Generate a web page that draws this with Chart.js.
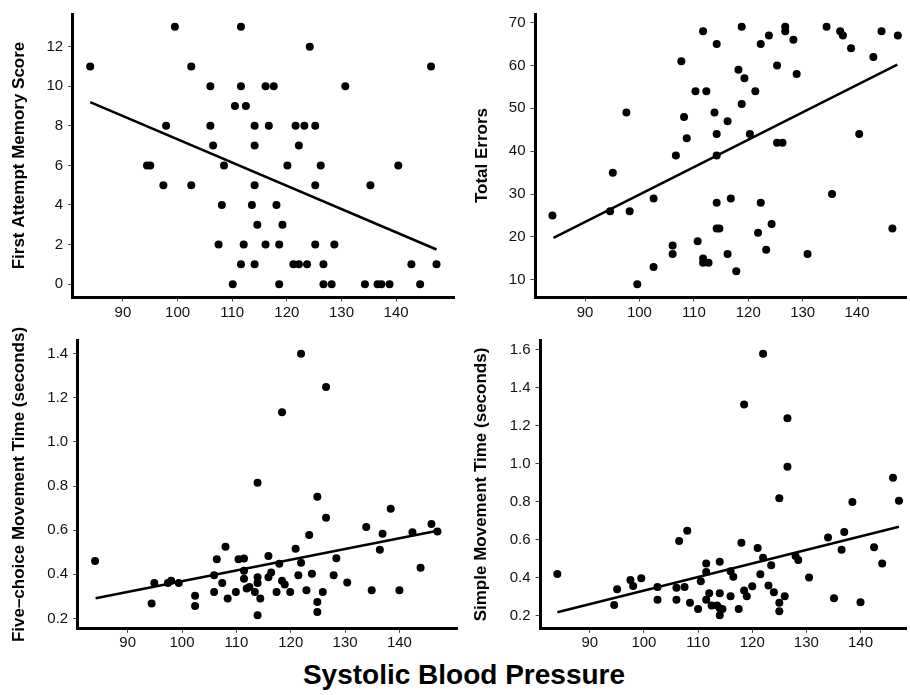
<!DOCTYPE html>
<html>
<head>
<meta charset="utf-8">
<script src="https://cdn.jsdelivr.net/npm/chart.js@4.4.1/dist/chart.umd.min.js"></script>
<style>
  body{margin:0;background:#fff;width:910px;height:695px;overflow:hidden;position:relative}
  .p{position:absolute}
  #xt{position:absolute;left:164px;width:600px;top:661px;text-align:center;
      font:bold 28px "Liberation Sans",Arial,sans-serif;line-height:28px;color:#000}
</style>
</head>
<body>
<div class="p" style="left:0;top:0;width:458px;height:325px"><canvas id="c1"></canvas></div>
<div class="p" style="left:455px;top:0;width:455px;height:325px"><canvas id="c2"></canvas></div>
<div class="p" style="left:0;top:320px;width:461px;height:335px"><canvas id="c3"></canvas></div>
<div class="p" style="left:455px;top:320px;width:455px;height:335px"><canvas id="c4"></canvas></div>
<div id="xt">Systolic Blood Pressure</div>
<script>
/* global Chart */
// Four scatter panels (systolic BP vs. outcome) with fitted lines.

// x ticks shared by every panel
const X_TICKS = [90,100,110,120,130,140];

// [systolic BP, score]
const MEM_POINTS = [
 [84,11],[99.5,13],[111.6,13],[124.2,12],[102.5,11],[146.4,11],
 [106,10],[111.6,10],[116.1,10],[117.6,10],[130.7,10],[110.5,9],[112.5,9],
 [97.9,8],[106,8],[114.1,8],[116.7,8],[121.6,8],[123.2,8],[125.2,8],
 [106.5,7],[114.1,7],[122.2,7],
 [94.4,6],[95,6],[108.5,6],[120.1,6],[126.2,6],[140.4,6],
 [97.4,5],[102.5,5],[114.1,5],[125.2,5],[135.3,5],
 [108.1,4],[113.6,4],[118.1,4],[114.6,3],[119.2,3],
 [107.5,2],[112.1,2],[116.1,2],[118.6,2],[125.2,2],[128.7,2],
 [111.6,1],[114.1,1],[121.2,1],[122.2,1],[123.7,1],[126.7,1],[142.8,1],[147.4,1],
 [110.1,0],[118.6,0],[126.7,0],[128.2,0],[134.3,0],[136.6,0],[137.3,0],[138.8,0],[144.4,0]
];
const MEM_FIT = [[84,9.2],[147.4,1.75]];
const MEM_TICKS = [0,2,4,6,8,10,12];

const ERR_POINTS = [
 [84,25],[94.6,26],[95.1,35],[97.6,49],[98.2,26],[99.6,9],[102.6,29],[102.6,13],
 [106.1,18],[106.1,16],[106.7,39],[107.7,61],[108.2,48],[108.7,43],[110.3,54],[110.7,19],
 [111.7,68],[111.7,15],[111.7,14],[112.3,54],[112.7,14],[113.8,49],[114.2,65],[114.2,44],
 [114.2,39],[114.2,28],[114.2,22],[114.7,22],[116.2,47],[116.2,16],[116.8,29],[117.8,12],
 [118.2,59],[118.8,69],[118.8,51],[119.3,57],[120.3,44],[121.3,54],[121.8,21],[122.3,65],
 [122.3,28],[123.3,17],[123.8,67],[124.3,23],[125.3,60],[125.3,42],[126.3,42],[126.8,69],
 [126.8,68],[128.3,66],[128.9,58],[130.9,16],[134.4,69],[135.4,30],[136.9,68],[137.4,67],
 [138.9,64],[140.4,44],[143,62],[144.5,68],[146.5,22],[147.5,67]
];
const ERR_FIT = [[84.2,19.8],[147.4,60.2]];
const ERR_TICKS = [10,20,30,40,50,60,70];

const FIVE_POINTS = [
 [84,0.46],[94.4,0.268],[94.9,0.36],[97.4,0.36],[98,0.371],[99.4,0.36],[102.4,0.303],[102.4,0.256],
 [105.9,0.395],[105.9,0.32],[106.4,0.468],[107.4,0.36],[108,0.525],[108.4,0.29],[109.9,0.32],
 [110.4,0.468],[111.4,0.472],[111.4,0.416],[111.4,0.38],[111.9,0.335],[112.4,0.342],[113.4,0.32],
 [113.9,0.815],[113.9,0.386],[113.9,0.36],[113.9,0.214],[114.4,0.29],[115.9,0.483],[115.9,0.386],
 [116.4,0.408],[117.4,0.32],[117.9,0.448],[118.4,1.135],[118.4,0.371],[118.9,0.354],[119.9,0.32],
 [120.9,0.516],[121.4,0.395],[121.9,1.4],[121.9,0.452],[122.9,0.328],[123.4,0.578],[123.9,0.402],
 [124.9,0.752],[124.9,0.274],[124.9,0.229],[125.9,0.32],[126.5,1.249],[126.5,0.656],[127.9,0.395],
 [128.4,0.473],[130.4,0.363],[133.9,0.614],[134.9,0.328],[136.4,0.511],[136.9,0.584],[138.4,0.697],
 [140,0.328],[142.4,0.59],[143.9,0.43],[145.9,0.628],[147,0.594]
];
const FIVE_FIT = [[84.1,0.291],[147,0.597]];
const FIVE_TICKS = [0.2,0.4,0.6,0.8,1.0,1.2,1.4];

const SIMPLE_POINTS = [
 [84,0.419],[94.5,0.256],[95.05,0.339],[97.5,0.388],[98,0.356],[99.5,0.396],[102.5,0.351],[102.5,0.284],
 [106,0.346],[106,0.284],[106.5,0.593],[107.5,0.351],[108,0.647],[108.5,0.267],[110,0.235],[110.5,0.381],
 [111.5,0.474],[111.5,0.43],[111.5,0.284],[112.05,0.318],[112.5,0.253],[113.5,0.253],[114,0.484],
 [114,0.318],[114,0.239],[114,0.202],[114.5,0.235],[116,0.302],[116,0.433],[116.5,0.405],[117.5,0.235],
 [118,0.584],[118.5,1.312],[118.5,0.332],[119,0.302],[120,0.354],[121,0.556],[121.5,0.418],[122,1.579],
 [122,0.504],[123,0.358],[123.5,0.465],[124,0.323],[125,0.818],[125,0.267],[125,0.223],[126,0.302],
 [126.5,1.24],[126.5,0.984],[128,0.514],[128.5,0.493],[130.5,0.4],[134,0.611],[135.1,0.291],
 [136.5,0.547],[137,0.64],[138.5,0.798],[140,0.27],[142.5,0.56],[144,0.474],[146,0.926],[147.1,0.805]
];
const SIMPLE_FIT = [[84,0.2175],[147.1,0.668]];
const SIMPLE_TICKS = [0.2,0.4,0.6,0.8,1.0,1.2,1.4,1.6];

Chart.defaults.font.family = '"Liberation Sans", Arial, Helvetica, sans-serif';
Chart.defaults.animation = false;

const xy = arr => arr.map(([x,y]) => ({x,y}));

function panel(id, points, fit, yTicks, title, o){
  new Chart(document.getElementById(id), {
    type:"scatter",
    data:{datasets:[
      {data:xy(fit), showLine:true, borderColor:"#000", borderWidth:2.5, pointRadius:0, fill:false},
      {data:xy(points), pointRadius:4, pointHoverRadius:4, backgroundColor:"#000", borderWidth:0}
    ]},
    options:{
      responsive:true, maintainAspectRatio:false,
      layout:{padding:{top:o.padTop, right:o.padRight, left:0, bottom:0}},
      plugins:{legend:{display:false}, tooltip:{enabled:false}},
      events:[],
      scales:{
        x:{type:"linear", min:o.xMin, max:o.xMax,
           afterBuildTicks:s=>{ s.ticks = X_TICKS.map(v=>({value:v})); },
           afterFit:s=>{ s.height = o.xH; },
           border:{display:true, color:"#000", width:3},
           grid:{drawOnChartArea:false, drawTicks:true, tickLength:4.5, color:"#444", lineWidth:1},
           ticks:{color:"#111", font:{size:15}, padding:o.xPad, maxRotation:0, autoSkip:false}},
        y:{type:"linear", min:o.yMin, max:o.yMax,
           afterBuildTicks:s=>{ s.ticks = yTicks.map(v=>({value:v})); },
           afterFit:s=>{ s.width = o.yW; },
           border:{display:true, color:"#000", width:3},
           grid:{drawOnChartArea:false, drawTicks:true, tickLength:4.5, color:"#444", lineWidth:1},
           ticks:{color:"#111", font:{size:15}, padding:5, autoSkip:false,
                  callback:v=>Number(v).toFixed(o.dec)},
           title:{display:true, text:title, color:"#000", font:{size:17, weight:"bold"},
                  padding:{top:o.titlePad, bottom:0}}}
      }
    }
  });
}

panel("c1", MEM_POINTS, MEM_FIT, MEM_TICKS, "First Attempt Memory Score",
  {padTop:10, padRight:1, xH:28, yW:72.7, xMin:80.8, xMax:150.6, yMin:-0.65, yMax:13.65, xPad:2, dec:0, titlePad:8.8});
panel("c2", ERR_POINTS, ERR_FIT, ERR_TICKS, "Total Errors",
  {padTop:10, padRight:0, xH:28, yW:80, xMin:80.8, xMax:149.0, yMin:6, yMax:72, xPad:2, dec:0, titlePad:16.8});
panel("c3", FIVE_POINTS, FIVE_FIT, FIVE_TICKS, "Five\u2013choice Movement Time (seconds)",
  {padTop:20.7, padRight:1, xH:26.7, yW:77.7, xMin:80.8, xMax:150.6, yMin:0.155, yMax:1.459, xPad:1, dec:1, titlePad:8.8});
panel("c4", SIMPLE_POINTS, SIMPLE_FIT, SIMPLE_TICKS, "Simple Movement Time (seconds)",
  {padTop:20.7, padRight:0, xH:26.7, yW:85, xMin:80.8, xMax:148.4, yMin:0.133, yMax:1.648, xPad:1, dec:1, titlePad:16.5});
</script>
</body>
</html>
